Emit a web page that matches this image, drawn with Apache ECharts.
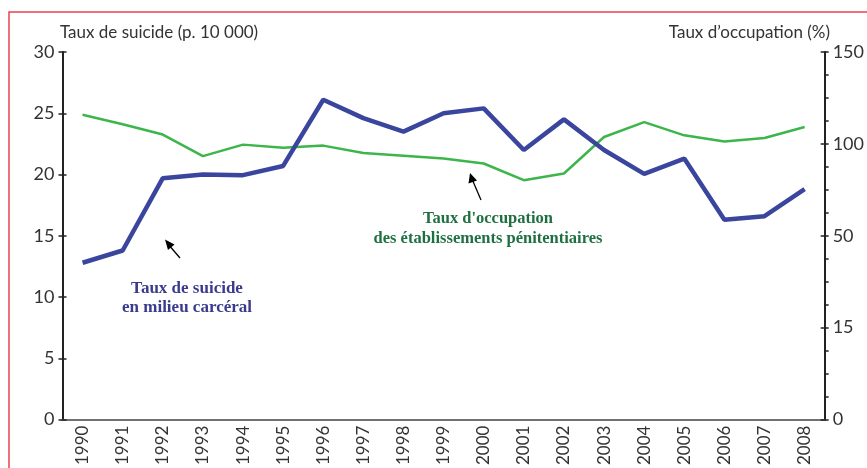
<!DOCTYPE html>
<html><head><meta charset="utf-8">
<script src="https://cdn.jsdelivr.net/npm/echarts@6/dist/echarts.min.js"></script>
<style>html,body{margin:0;padding:0;background:#fff}#c{width:867px;height:468px}</style>
</head><body><div id="c"></div>
<script>
const years = ['1990','1991','1992','1993','1994','1995','1996','1997','1998','1999','2000','2001','2002','2003','2004','2005','2006','2007','2008'];
const suicideRate = [12.8,13.8,19.7,20.0,19.95,20.7,26.1,24.6,23.5,25.0,25.4,22.0,24.5,22.0,20.05,21.3,16.3,16.6,18.8];
const occupancy = [124.4,120.5,116.3,107.5,112.2,110.9,111.8,108.8,107.7,106.5,104.5,97.7,100.4,115.3,121.4,116,113.5,114.9,119.4];
const leftTicks = [0,5,10,15,20,25,30];
const rightTickLabels = ['0','15','50','100','150'];

const font = 'Lato, "Open Sans", sans-serif';
const chart = echarts.init(document.getElementById('c'), null, {renderer:'canvas'});
chart.setOption({
  animation:false,
  grid:{left:62.5, right:42, top:52, bottom:47},
  xAxis:[{
    type:'category', data:years, boundaryGap:true, position:'bottom',
    axisLine:{lineStyle:{color:'#222', width:2}},
    axisTick:{show:false},
    axisLabel:{rotate:90, fontSize:17, color:'#333', fontFamily:font, margin:6, interval:0}
  },{
    type:'category', data:years, position:'top',
    axisLine:{lineStyle:{color:'#8c8c8c', width:1.5}},
    axisTick:{show:false}, axisLabel:{show:false}
  }],
  yAxis:[{
    type:'value', min:leftTicks[0], max:leftTicks[leftTicks.length-1], interval:5, position:'left',
    axisLine:{show:true, lineStyle:{color:'#222', width:2}},
    axisTick:{show:true, length:4, lineStyle:{color:'#222', width:1.5}},
    splitLine:{show:false},
    axisLabel:{fontSize:18, color:'#333', fontFamily:font, margin:8}
  },{
    type:'value', min:0, max:150, interval:37.5, position:'right',
    axisLine:{show:true, lineStyle:{color:'#222', width:2}},
    axisTick:{show:true, length:4, lineStyle:{color:'#222', width:1.5}},
    minorTick:{show:true, splitNumber:4, length:4, lineStyle:{color:'#222', width:1.5}},
    splitLine:{show:false},
    axisLabel:{fontSize:18, color:'#333', fontFamily:font, margin:8,
      formatter:function(v){return rightTickLabels[Math.round(v/37.5)];}}
  },{
    type:'value', min:0, max:30, interval:5, position:'left',
    axisLine:{show:false}, axisLabel:{show:false}, splitLine:{show:false},
    axisTick:{show:true, inside:true, length:4, lineStyle:{color:'#222', width:1.5}}
  },{
    type:'value', min:0, max:150, interval:37.5, position:'right',
    axisLine:{show:false}, axisLabel:{show:false}, splitLine:{show:false},
    axisTick:{show:true, inside:true, length:4, lineStyle:{color:'#222', width:1.5}}
  }],
  series:[{
    name:'Taux d\u2019occupation', type:'line', yAxisIndex:1, data:occupancy,
    symbol:'none', lineStyle:{color:'#3cb64a', width:2.5}, z:2
  },{
    name:'Taux de suicide', type:'line', yAxisIndex:0, data:suicideRate,
    symbol:'none', lineStyle:{color:'#3a459e', width:4.5}, z:3
  }],
  graphic:[
    {type:'rect', shape:{x:9, y:12, width:900, height:500}, style:{fill:'none', stroke:'#e8414f', lineWidth:1.5}, silent:true},
    {type:'text', x:60, y:33, style:{text:'Taux de suicide (p. 10 000)', font:'17px '+font, fill:'#333', textAlign:'left', textVerticalAlign:'middle'}},
    {type:'text', x:830, y:33, style:{text:'Taux d\u2019occupation (%)', font:'17px '+font, fill:'#333', textAlign:'right', textVerticalAlign:'middle'}},
    {type:'text', x:187, y:298, style:{text:'Taux de suicide\nen milieu carcéral', font:'bold 17px "Liberation Serif", serif', fill:'#3b3b8e', textAlign:'center', textVerticalAlign:'middle', lineHeight:19}},
    {type:'text', x:488, y:229, style:{text:'Taux d\'occupation\ndes établissements pénitentiaires', font:'bold 16.5px "Liberation Serif", serif', fill:'#1f7040', textAlign:'center', textVerticalAlign:'middle', lineHeight:20}},
    {type:'line', shape:{x1:180, y1:258, x2:168, y2:244}, style:{stroke:'#000', lineWidth:1.3}},
    {type:'polygon', shape:{points:[[165,239.5],[174.5,244.5],[168,250]]}, style:{fill:'#000'}},
    {type:'line', shape:{x1:481, y1:200, x2:472, y2:179}, style:{stroke:'#000', lineWidth:1.3}},
    {type:'polygon', shape:{points:[[470,173],[477,180.5],[468.5,183.5]]}, style:{fill:'#000'}}
  ]
});
</script>
</body></html>
